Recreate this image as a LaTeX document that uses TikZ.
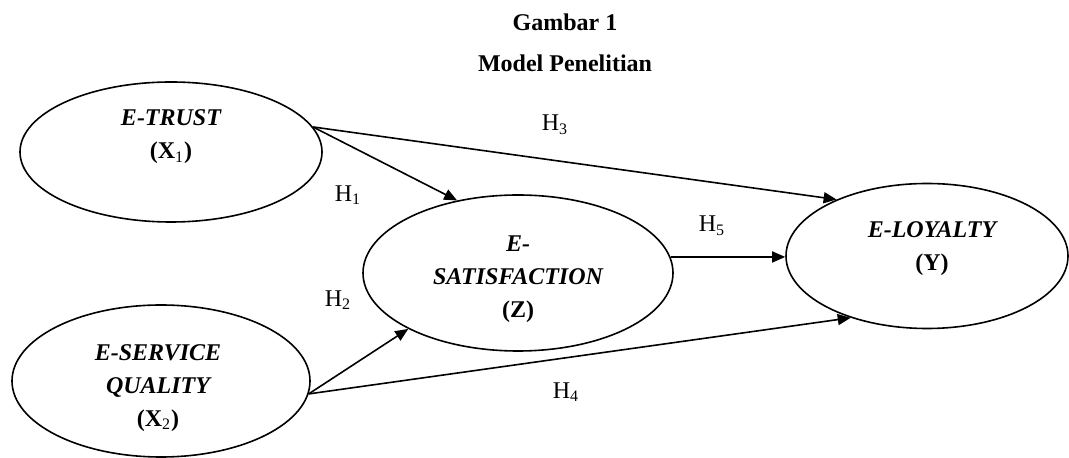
\documentclass[tikz,border=0pt]{standalone}
\usepackage{fontspec}
\setmainfont{Liberation Serif}
\usetikzlibrary{shapes.geometric,arrows.meta}
\tikzset{
  var/.style={draw, ellipse, line width=0.8pt, inner sep=0pt},
  vtext/.style={align=center, font=\fontsize{12}{16.5}\selectfont\bfseries\itshape, inner sep=0pt},
  hyp/.style={font=\fontsize{12}{14}\selectfont, inner sep=0pt},
  ttl/.style={font=\fontsize{12}{14}\selectfont\bfseries, inner sep=0pt},
  link/.style={line width=0.8pt, -{Triangle[length=6.5pt,width=5.5pt]}},
}
\newcommand{\sub}[1]{\textsubscript{\normalfont\upshape #1}}
\begin{document}
\begin{tikzpicture}[x=0.5pt,y=-0.5pt]
\useasboundingbox (0,0) rectangle (1069,458);
% titles
\node[ttl] (g1) at (565,22) {Gambar 1};
\node[ttl] (g2) at (565,63) {Model Penelitian};
% ellipses
\node[var, minimum width=151pt, minimum height=70pt] (trust) at (171,152) {};
\node[var, minimum width=155pt, minimum height=78pt] (sat) at (518,273) {};
\node[var, minimum width=149pt, minimum height=76pt] (sq) at (161,381) {};
\node[var, minimum width=141pt, minimum height=72.5pt] (loy) at (927,256) {};
% texts
\node[vtext] (ttrust) at (171,137) {E-TRUST\\\upshape(X\sub{1})};
\node[vtext] (tsat) at (518,279) {E-\\SATISFACTION\\\upshape(Z)};
\node[vtext] (tsq) at (158,388) {E-SERVICE\\QUALITY\\\upshape(X\sub{2})};
\node[vtext] (tloy) at (932,249) {E-LOYALTY\\\upshape(Y)};
% hypothesis labels
\node[hyp] (h1) at (348,195) {H\sub{1}};
\node[hyp] (h2) at (338,300) {H\sub{2}};
\node[hyp] (h3) at (555,125) {H\sub{3}};
\node[hyp] (h4) at (566,392) {H\sub{4}};
\node[hyp] (h5) at (712,226) {H\sub{5}};
% connectors
\draw[link] (trust.10) -- (sat.130);
\draw[link] (trust.10) -- (loy.148);
\draw[link] (sq.355) -- (sat.207);
\draw[link] (sq.355) -- (loy.219);
\draw[link] (sat.6) -- (sat.6 -| loy.west);
\end{tikzpicture}
\end{document}
